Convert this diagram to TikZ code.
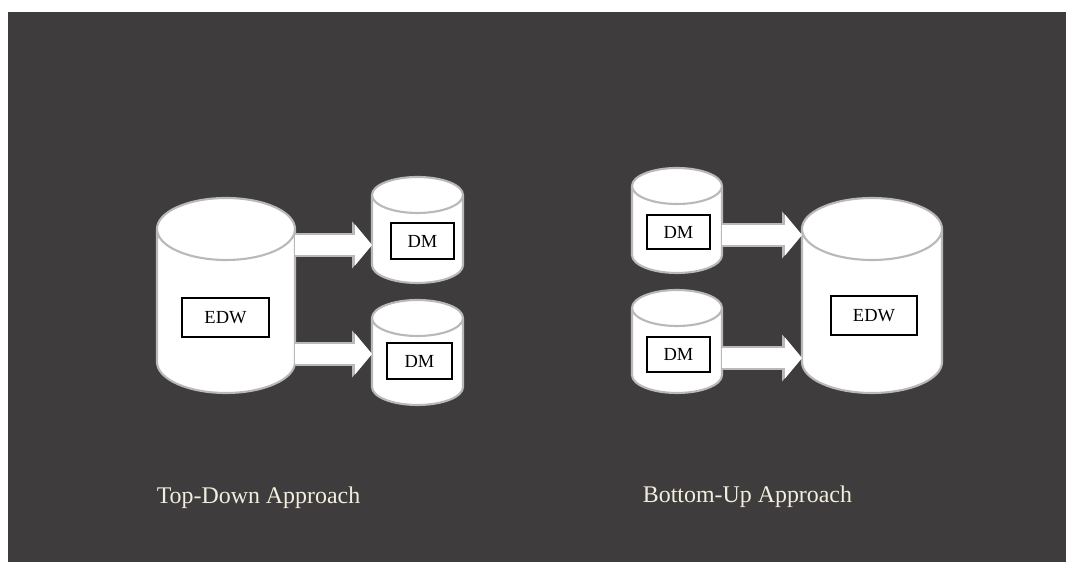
\documentclass[tikz,border=0pt]{standalone}
\usepackage{fontspec}
\setmainfont{Liberation Serif}
\usepackage{xcolor}
\usepackage{tikz}
\usetikzlibrary{positioning, arrows.meta, calc}

\definecolor{bgdark}{RGB}{62,60,60}
\definecolor{rimgray}{RGB}{185,185,185}
\definecolor{labelcream}{RGB}{242,238,222}

% cylinder drawn round an (invisible) named node; #2 = radius of the end caps
\newcommand{\dbdraw}[2]{%
  \path let \p1=(#1.north west), \p2=(#1.south east), \n1={(\x2-\x1)/2} in
    [fill=white, draw=rimgray, line width=1.2pt, line join=round]
    (\x1,\y1-#2) -- (\x1,\y2+#2)
      arc[start angle=180, end angle=360, x radius=\n1, y radius=#2]
      -- (\x2,\y1-#2)
      arc[start angle=0, end angle=180, x radius=\n1, y radius=#2] -- cycle
    (\x1,\y1-#2) arc[start angle=180, end angle=360, x radius=\n1, y radius=#2];
}

\begin{document}
\begin{tikzpicture}[
    font=\small,
    db/.style={rectangle, inner sep=0pt, outer sep=0pt},
    tag/.style={rectangle, draw=black, fill=white, line width=0.8pt, inner sep=0pt, font=\fontsize{10.5}{12}\selectfont},
    fatarrow/.style={draw=white, line width=0.40cm, -{Triangle[length=0.34cm, width=0.80cm]},
        preaction={draw=rimgray, line width=0.48cm, -{Triangle[length=0.40cm, width=0.92cm]}}},
    caption/.style={text=labelcream, font=\fontsize{13.6}{16}\selectfont}
]

% Background
\useasboundingbox (0,0) rectangle (21.32,11.24);
\fill[bgdark] (0.16,0) rectangle (21.32,11.0);

% Top-down: cylinders
\node[db, minimum width=2.76cm, minimum height=3.9cm] (edwL) at (4.52,5.33) {};
\node[db, minimum width=1.82cm, minimum height=2.12cm] (dmL1) at (8.35,6.64) {};
\node[db, minimum width=1.82cm, minimum height=2.10cm] (dmL2) at (8.35,4.19) {};
\dbdraw{edwL}{0.62cm}
\dbdraw{dmL1}{0.36cm}
\dbdraw{dmL2}{0.36cm}

% Top-down: labels
\node[tag, minimum width=1.74cm, minimum height=0.78cm] (edwLtag) at (4.51,4.89) {EDW};
\node[tag, minimum width=1.26cm, minimum height=0.72cm] (dmL1tag) at (8.45,6.42) {DM};
\node[tag, minimum width=1.30cm, minimum height=0.72cm] (dmL2tag) at (8.39,4.02) {DM};

% Bottom-up: cylinders
\node[db, minimum width=1.80cm, minimum height=2.10cm] (dmR1) at (13.54,6.83) {};
\node[db, minimum width=1.80cm, minimum height=2.06cm] (dmR2) at (13.54,4.41) {};
\node[db, minimum width=2.80cm, minimum height=3.9cm] (edwR) at (17.44,5.33) {};
\dbdraw{dmR1}{0.36cm}
\dbdraw{dmR2}{0.36cm}
\dbdraw{edwR}{0.62cm}

% Bottom-up: labels
\node[tag, minimum width=1.26cm, minimum height=0.68cm] (dmR1tag) at (13.57,6.60) {DM};
\node[tag, minimum width=1.26cm, minimum height=0.70cm] (dmR2tag) at (13.57,4.15) {DM};
\node[tag, minimum width=1.72cm, minimum height=0.78cm] (edwRtag) at (17.48,4.93) {EDW};

% Arrows
\draw[fatarrow] (edwL.east |- 0,6.34) -- (dmL1.west |- 0,6.34);
\draw[fatarrow] (edwL.east |- 0,4.16) -- (dmL2.west |- 0,4.16);
\draw[fatarrow] (dmR1.east |- 0,6.54) -- (edwR.west |- 0,6.54);
\draw[fatarrow] (dmR2.east |- 0,4.08) -- (edwR.west |- 0,4.08);

% Captions
\node[caption] (topdown) at (5.17,1.28) {Top-Down Approach};
\node[caption] (bottomup) at (14.95,1.30) {Bottom-Up Approach};

\end{tikzpicture}
\end{document}
